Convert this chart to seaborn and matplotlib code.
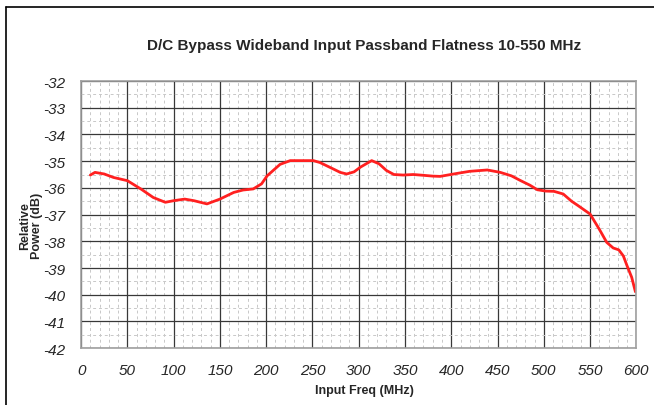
import pandas as pd
import matplotlib
matplotlib.use("Agg")
import matplotlib.pyplot as plt
from matplotlib.ticker import MultipleLocator
from matplotlib.lines import Line2D
import seaborn as sns

# values
freq_mhz = [10, 15, 25, 35, 50, 65, 78, 91, 100, 112,
            122, 136, 150, 165, 175, 186, 195, 201, 215, 226,
            238, 251, 258, 270, 280, 287, 295, 302, 314, 322,
            330, 338, 348, 359, 370, 380, 388, 406, 420, 439,
            453, 465, 475, 485, 493, 502, 511, 521, 530, 536,
            550, 560, 568, 575, 581, 586, 590, 595, 599]
power_db = [-35.52, -35.42, -35.48, -35.61, -35.73, -36.05, -36.36, -36.54, -36.48, -36.42,
            -36.48, -36.60, -36.42, -36.17, -36.08, -36.04, -35.85, -35.55, -35.12, -34.98,
            -34.98, -34.98, -35.05, -35.25, -35.42, -35.48, -35.40, -35.22, -34.98, -35.10,
            -35.35, -35.50, -35.52, -35.50, -35.53, -35.56, -35.57, -35.46, -35.38, -35.33,
            -35.42, -35.55, -35.73, -35.90, -36.07, -36.12, -36.13, -36.23, -36.50, -36.64,
            -36.98, -37.55, -38.04, -38.25, -38.32, -38.55, -38.92, -39.35, -39.89]
x_ticks = list(range(0, 601, 50))
y_ticks = list(range(-42, -31, 1))

df = pd.DataFrame({"freq": freq_mhz, "power": power_db})

sns.set_style("white")
plt.rcParams["font.family"] = ["Liberation Sans", "DejaVu Sans"]
plt.rcParams["axes.unicode_minus"] = False

fig = plt.figure(figsize=(6.54, 4.06), dpi=100)
ax = fig.add_axes([0.124, 0.140, 0.849, 0.658])

sns.lineplot(data=df, x="freq", y="power", ax=ax, color="#ff2020", linewidth=2.0)

ax.set_xlim(0, 600)
ax.set_ylim(-42, -32)
ax.set_xticks(x_ticks)
ax.set_yticks(y_ticks)
ax.xaxis.set_minor_locator(MultipleLocator(10))
ax.yaxis.set_minor_locator(MultipleLocator(0.5))
ax.grid(which="minor", color="#c8c8c8", linestyle=(0, (3, 3)), linewidth=0.7)
ax.grid(which="major", color="#383838", linestyle="-", linewidth=0.9)
ax.set_axisbelow(True)

for s in ax.spines.values():
    s.set_color("#a0a0a0")
    s.set_linewidth(1.2)

ax.tick_params(which="major", direction="out", length=5, width=1, color="#808080",
               labelsize=11, pad=6)
ax.tick_params(which="minor", length=0)
for lbl in ax.get_xticklabels() + ax.get_yticklabels():
    lbl.set_fontstyle("italic")

ax.set_xlabel("Input Freq (MHz)", fontsize=9, fontweight="bold")
ax.xaxis.set_label_coords(0.51, -0.135)
ax.set_ylabel("Relative\nPower (dB)", fontsize=9, fontweight="bold",
              linespacing=1.0)
ax.yaxis.set_label_coords(-0.068, 0.46)
ax.set_title("D/C Bypass Wideband Input Passband Flatness 10-550 MHz",
             fontsize=11, fontweight="bold", pad=23, x=0.51)

# outer chart frame (top and left edges visible in the reference)
fig.add_artist(Line2D([0.009, 1.0], [0.980, 0.980], transform=fig.transFigure,
                      color="black", linewidth=1.2))
fig.add_artist(Line2D([0.009, 0.009], [0.0, 0.980], transform=fig.transFigure,
                      color="black", linewidth=1.2))

fig.savefig("out.png", dpi=100)
